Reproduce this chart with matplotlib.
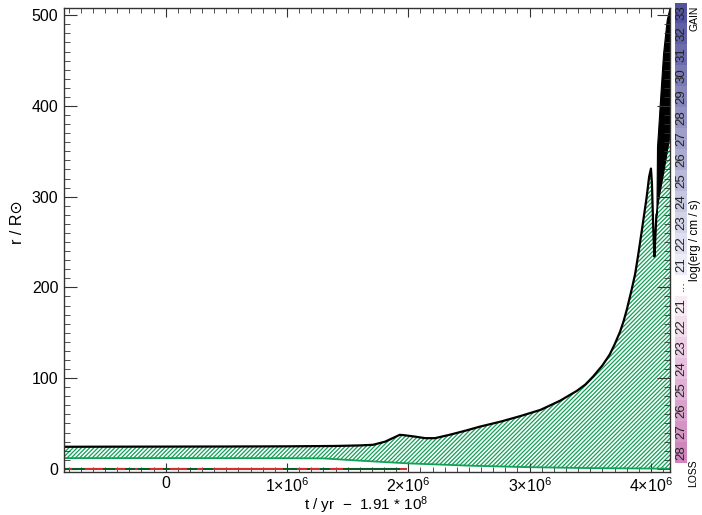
import numpy as np
import matplotlib
matplotlib.use("Agg")
import matplotlib.pyplot as plt
from matplotlib.ticker import MultipleLocator
from matplotlib.colors import LinearSegmentedColormap

plt.rcParams["font.family"] = ["Liberation Sans", "DejaVu Sans"]
plt.rcParams["mathtext.fontset"] = "custom"
plt.rcParams["mathtext.rm"] = "Liberation Sans"
plt.rcParams["mathtext.it"] = "Liberation Sans"
plt.rcParams["hatch.linewidth"] = 0.9

W, H = 702, 515

# time in units of 1e6 yr (relative to 1.91e8 yr), radius in R_sun
t_surf = [-0.84, -0.5, 0.0, 0.5, 1.0, 1.4, 1.6, 1.71, 1.81, 1.89, 1.93, 1.97,
          2.05, 2.14, 2.22, 2.34, 2.47, 2.59, 2.76, 2.92, 3.09, 3.25, 3.39,
          3.46, 3.525, 3.60, 3.66, 3.70, 3.745, 3.775, 3.80, 3.82, 3.84, 3.87,
          3.895, 3.924, 3.965, 3.985, 4.0, 4.008, 4.018, 4.028, 4.036, 4.045]
r_surf = [24.3, 24.4, 24.5, 24.6, 24.8, 25.2, 25.8, 26.5, 30.0, 35.0, 37.5, 37.0,
          35.6, 33.8, 33.8, 37.5, 42.0, 46.5, 52.0, 58.0, 65.0, 75.0, 86.0,
          93.0, 102.0, 114.0, 126.0, 137.0, 151.0, 163.0, 175.0, 186.0, 197.0, 215.0,
          236.0, 262.0, 300.0, 322.0, 331.0, 315.0, 270.0, 234.0, 255.0, 280.0]

# pulsation phase: envelope of the oscillating surface
t_puls = [4.045, 4.05, 4.06, 4.075, 4.10, 4.13, 4.16]
r_puls_max = [280.0, 355.0, 375.0, 407.0, 458.0, 495.0, 512.0]
r_puls_min = [280.0, 288.0, 297.0, 308.0, 326.0, 350.0, 372.0]

# base of the convective envelope
t_base = [-0.84, 0.0, 1.0, 1.3, 1.6, 2.0, 2.5, 3.0, 3.5, 4.0, 4.16]
r_base = [11.8, 11.8, 11.7, 11.5, 9.0, 6.0, 3.5, 1.8, 0.8, 0.3, 0.0]

# core burning episodes shown along r = 0
burn_start = [-0.797, -0.665, -0.418, -0.253, -0.129, 0.035, 0.258, 0.390, 1.082, 1.19, 1.355, 1.93]
burn_end = [-0.772, -0.517, -0.336, -0.228, -0.022, 0.176, 0.308, 0.967, 1.165, 1.27, 1.46, 1.99]
core_end = 1.93

gain_levels = [21, 22, 23, 24, 25, 26, 27, 28, 29, 30, 31, 32, 33]
loss_levels = [21, 22, 23, 24, 25, 26, 27, 28]

xtick_vals = [0, 1, 2, 3, 4]
xtick_text = ["0", r"1$\times$10$^6$", r"2$\times$10$^6$", r"3$\times$10$^6$", r"4$\times$10$^6$"]


def fpos(x, y):
    return x / W, 1 - y / H


fig = plt.figure(figsize=(W / 100, H / 100), dpi=100)
ax = fig.add_axes([64 / W, 1 - 472 / H, (670 - 64) / W, (472 - 8) / H])

green = "#10a056"

# hatched convective envelope, top follows surface then pulsation minimum
t_top = np.concatenate([t_surf, t_puls[1:]])
r_top = np.concatenate([r_surf, r_puls_min[1:]])
t_all = np.union1d(t_top, t_base)
top_i = np.interp(t_all, t_top, r_top)
base_i = np.interp(t_all, t_base, r_base)
ax.fill_between(t_all, base_i, top_i, facecolor="white", edgecolor=green,
                hatch="////////", linewidth=0)

ax.plot(t_base, r_base, color="#11a055", lw=1.3)

# rapidly pulsating surface appears as a solid black band
ax.fill_between(t_puls, r_puls_min, r_puls_max, color="black", linewidth=0.8,
                edgecolor="black")
ax.plot(t_surf, r_surf, color="black", lw=1.6)

# core
ax.plot([-0.84, core_end], [0.3, 0.3], color="#0a5a2a", lw=1.5, solid_capstyle="butt")
for a, b in zip(burn_start, burn_end):
    ax.plot([a, b], [0.3, 0.3], color="#d03030", lw=1.5, solid_capstyle="butt")

ax.set_xlim(-0.838, 4.157)
ax.set_ylim(-3.5, 508)

ax.set_xticks(xtick_vals)
ax.set_xticklabels(xtick_text)
ax.xaxis.set_minor_locator(MultipleLocator(0.1))
ax.yaxis.set_major_locator(MultipleLocator(100))
ax.yaxis.set_minor_locator(MultipleLocator(10))

ax.tick_params(which="both", direction="in", top=True, right=True,
               color="#333333", labelsize=11.5)
ax.tick_params(axis="x", which="major", length=6.5, pad=3)
ax.tick_params(axis="x", which="minor", length=3.6)
ax.tick_params(axis="y", which="major", length=9.4, pad=4)
ax.tick_params(axis="y", which="minor", length=4.3)
for s in ax.spines.values():
    s.set_color("#333333")
    s.set_linewidth(1.0)

fig.text(*fpos(366, 505.5), r"t / yr  $-$  1.91 * 10$^8$", fontsize=11,
         ha="center", va="center")
fig.text(*fpos(17, 222), "r / R\u2299", fontsize=11.5, rotation=90,
         ha="center", va="center")

# flux colour key
cax = fig.add_axes([675 / W, 1 - 463 / H, 12 / W, (463 - 2.5) / H])
cax.set_xlim(0, 1)
n_cells = len(gain_levels) + 1 + len(loss_levels)
cax.set_ylim(0, n_cells)
cax.axis("off")

gain_cmap = LinearSegmentedColormap.from_list("gain", ["#ececf6", "#53539e"])
loss_cmap = LinearSegmentedColormap.from_list("loss", ["#f7ecf4", "#cf86bd"])

for i, lv in enumerate(loss_levels[::-1]):
    frac = (lv - loss_levels[0]) / (loss_levels[-1] - loss_levels[0])
    cax.bar(0.5, 1, bottom=i, width=1, color=loss_cmap(frac), linewidth=0)
    cax.text(0.5, i + 0.5, str(lv), rotation=90, ha="center", va="center",
             fontsize=9.5, color="#222222")
mid = len(loss_levels)
cax.text(0.5, mid + 0.5, "...", rotation=90, ha="center", va="center",
         fontsize=9.5, color="#222222")
for j, lv in enumerate(gain_levels):
    frac = (lv - gain_levels[0]) / (gain_levels[-1] - gain_levels[0])
    y0 = mid + 1 + j
    cax.bar(0.5, 1, bottom=y0, width=1, color=gain_cmap(frac), linewidth=0)
    cax.text(0.5, y0 + 0.5, str(lv), rotation=90, ha="center", va="center",
             fontsize=9.5, color="#222222")

fig.text(*fpos(695, 18), "GAIN", rotation=90, ha="center", va="center", fontsize=7.5)
fig.text(*fpos(693, 473), "LOSS", rotation=90, ha="center", va="center", fontsize=7.5)
fig.text(*fpos(695, 240), "log(erg / cm / s)", rotation=90, ha="center",
         va="center", fontsize=8.5)

fig.savefig("out.png", dpi=100)
